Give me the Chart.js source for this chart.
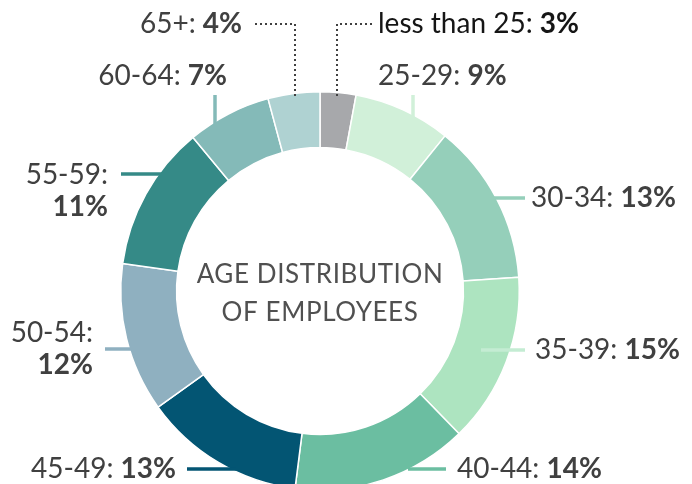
<!DOCTYPE html>
<html>
<head>
<meta charset="utf-8">
<script src="https://cdn.jsdelivr.net/npm/chart.js@4.4.1/dist/chart.umd.min.js"></script>
<style>
  html, body { margin: 0; padding: 0; background: #fff; overflow: hidden; }
  #wrap { width: 692px; height: 484px; overflow: hidden; }
</style>
</head>
<body>
<div id="wrap"><canvas id="myChart" width="692" height="500"></canvas></div>
<script>
var ageGroups = ['less than 25', '25-29', '30-34', '35-39', '40-44', '45-49', '50-54', '55-59', '60-64', '65+'];
// slice sizes as drawn in the picture
var sliceSizes = [2.9, 7.9, 13.1, 13.8, 14.3, 13.1, 12.1, 11.8, 6.8, 4.2];
// percentages as printed in the labels
var shareLabels = ['3%', '9%', '13%', '15%', '14%', '13%', '12%', '11%', '7%', '4%'];
var sliceColors = ['#a7a8ab', '#d1f0d9', '#95cfba', '#ade4c0', '#6bbea1', '#035573', '#8fb0c0', '#358a87', '#84bab8', '#afd2d2'];
var centerTitle = ['AGE DISTRIBUTION', 'OF EMPLOYEES'];

// where each label sits and how its leader runs (canvas px)
var labelLayout = [
    { align: 'left', x: 378, y: 24, dotted: true, line: [[372, 24], [337, 24], [337, 98]] },
    { align: 'left', x: 378, y: 76, line: [[413, 95], [413, 120]] },
    { align: 'left', x: 531, y: 198, line: [[525, 198], [494, 198]] },
    { align: 'left', x: 535, y: 350, line: [[525, 350], [481, 350]], lineColor: '#c4ecd3' },
    { align: 'left', x: 457, y: 469, line: [[446, 469], [408, 469]] },
    { align: 'right', x: 176, y: 469, line: [[187, 469], [236, 469]] },
    { align: 'right', x: 93, y: 333, y2: 365, line: [[105, 349], [133, 349]] },
    { align: 'right', x: 108, y: 175, y2: 207, line: [[121, 174], [162, 174]] },
    { align: 'right', x: 227, y: 76, line: [[215, 95], [215, 126]] },
    { align: 'right', x: 242, y: 24, dotted: true, line: [[255, 24], [295, 24], [295, 98]] }
];

var FONT = 'Lato, "Noto Sans", sans-serif';
var FONT_SIZE = '28px ';
var TEXT_COLOR = '#404040';

function drawParts(ctx, parts, x, y, align) {
    // parts: [[text, bold]]
    var total = 0;
    parts.forEach(function (p) {
        ctx.font = (p[1] ? 'bold ' : '') + FONT_SIZE + FONT;
        p.w = ctx.measureText(p[0]).width;
        total += p.w;
    });
    var cx = align === 'right' ? x - total : x;
    ctx.textAlign = 'left';
    ctx.textBaseline = 'middle';
    parts.forEach(function (p) {
        ctx.font = (p[1] ? 'bold ' : '') + FONT_SIZE + FONT;
        ctx.fillText(p[0], cx, y);
        cx += p.w;
    });
}

var labelPlugin = {
    id: 'ageLabels',
    afterDatasetsDraw: function (chart) {
        var ctx = chart.ctx;
        ctx.save();
        for (let i = 0; i < ageGroups.length; i++) {
            var lay = labelLayout[i];
            ctx.beginPath();
            ctx.moveTo(lay.line[0][0], lay.line[0][1]);
            for (let k = 1; k < lay.line.length; k++) {
                ctx.lineTo(lay.line[k][0], lay.line[k][1]);
            }
            if (lay.dotted) {
                ctx.strokeStyle = '#404040';
                ctx.lineWidth = 2;
                ctx.setLineDash([2, 3]);
            } else {
                ctx.strokeStyle = lay.lineColor || sliceColors[i];
                ctx.lineWidth = 3.5;
                ctx.setLineDash([]);
            }
            ctx.stroke();
            ctx.setLineDash([]);

            ctx.fillStyle = i === 0 ? '#151515' : TEXT_COLOR;
            if (lay.y2) {
                drawParts(ctx, [[ageGroups[i] + ':', false]], lay.x, lay.y, lay.align);
                drawParts(ctx, [[shareLabels[i], true]], lay.x, lay.y2, lay.align);
            } else {
                drawParts(ctx, [[ageGroups[i] + ': ', false], [shareLabels[i], true]], lay.x, lay.y, lay.align);
            }
        }
        // title in the hole
        var meta = chart.getDatasetMeta(0).data[0];
        ctx.fillStyle = '#505050';
        ctx.font = '26px ' + FONT;
        ctx.textAlign = 'center';
        ctx.textBaseline = 'middle';
        ctx.letterSpacing = '0.6px';
        ctx.fillText(centerTitle[0], meta.x, 275);
        ctx.fillText(centerTitle[1], meta.x, 313);
        ctx.restore();
    }
};

var ctx = document.getElementById('myChart');
var chart = new Chart(ctx, {
    type: 'doughnut',
    data: {
        labels: ageGroups,
        datasets: [{
            data: sliceSizes,
            backgroundColor: sliceColors,
            borderColor: '#ffffff',
            borderWidth: 1.5
        }]
    },
    options: {
        responsive: false,
        animation: false,
        cutout: '72%',
        layout: { padding: { left: 120, right: 172, top: 91, bottom: 9 } },
        plugins: {
            legend: { display: false },
            tooltip: { enabled: false },
            title: { display: false }
        }
    },
    plugins: [labelPlugin]
});
</script>
</body>
</html>
